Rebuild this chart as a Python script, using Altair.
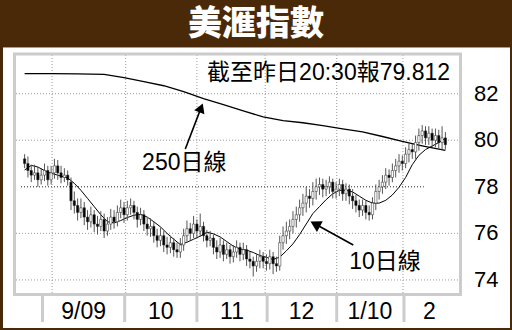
import altair as alt
import pandas as pd

# ---------------- data ----------------
opens = [79.2, 79.0, 78.7, 78.5, 78.6, 78.3, 78.5, 78.7, 78.3, 78.6, 78.9, 78.6, 78.4, 78.5,
         78.2, 77.4, 77.2, 76.9, 77.1, 76.7, 76.5, 76.8, 76.4, 76.3, 76.6, 76.1, 76.4, 76.7,
         76.5, 76.9, 77.1, 76.8, 77.1, 77.2, 76.9, 76.6, 76.8, 76.4, 76.2, 76.3, 75.9,
         75.7, 75.9, 75.5, 75.4, 75.6, 75.3, 75.2,
         75.5, 75.9, 76.2, 76.0, 76.4, 76.1, 76.3, 75.9, 75.7,
         75.8, 75.4, 75.2, 75.5, 75.1, 75.3, 75.0, 75.2, 75.4, 75.1, 75.3, 74.9,
         74.8, 74.6, 74.8, 75.0, 74.8, 74.7, 75.0, 74.7,
         74.6, 75.6, 75.9, 76.1, 76.3, 76.6, 76.8, 77.1, 77.3, 77.6, 77.5, 77.8,
         78.0, 78.1, 77.9, 78.0, 78.2, 77.8, 77.9, 78.1, 77.7, 77.9, 77.6, 77.4, 77.2, 77.0, 77.2, 76.9,
         76.8, 77.3, 77.8, 78.0, 78.2, 78.5, 78.4, 78.7, 78.9, 79.1, 79.0, 79.4, 79.6, 79.5, 79.9,
         80.2, 80.4, 80.1, 80.3, 80.0, 80.2, 79.9, 80.1]
highs = [79.4, 79.3, 78.95, 78.95, 78.85, 78.8, 79.0, 78.9, 78.9, 79.2, 79.15, 78.9, 78.8, 78.7,
         78.4, 77.8, 77.5, 77.5, 77.35, 77.0, 77.15, 77.0, 76.75, 76.95, 76.85, 76.7, 77.05, 77.0,
         77.2, 77.45, 77.35, 77.4, 77.5, 77.4, 77.15, 77.1, 77.0, 76.7, 76.65, 76.5, 76.2,
         76.25, 76.1, 75.85, 75.9, 75.8, 75.6, 75.8,
         76.2, 76.55, 76.45, 76.75, 76.6, 76.85, 76.5, 76.15, 76.1,
         75.95, 75.7, 75.8, 75.7, 75.6, 75.5, 75.5, 75.7, 75.6, 75.6, 75.5, 75.2,
         75.0, 75.1, 75.3, 75.2, 75.1, 75.3, 75.2, 75.0,
         75.9, 76.3, 76.5, 76.6, 76.95, 77.15, 77.45, 77.7, 78.0, 77.9, 78.2, 78.35,
         78.4, 78.35, 78.3, 78.45, 78.35, 78.2, 78.35, 78.3, 78.15, 78.1, 77.9, 77.65, 77.45, 77.45, 77.4, 77.2,
         77.55, 78.1, 78.3, 78.5, 78.8, 78.75, 79.0, 79.2, 79.4, 79.35, 79.7, 79.9, 79.85, 80.2,
         80.5, 80.65, 80.6, 80.6, 80.5, 80.5, 80.45, 80.6, 80.35]
lows = [78.8, 78.4, 78.2, 78.3, 78.0, 78.1, 78.25, 78.05, 78.1, 78.35, 78.3, 78.15, 78.2, 78.05,
        77.0, 76.85, 76.55, 76.65, 76.35, 76.15, 76.25, 76.05, 75.95, 76.1, 75.8, 75.9, 76.15, 76.2,
        76.3, 76.65, 76.45, 76.55, 76.8, 76.6, 76.25, 76.35, 76.1, 75.9, 75.85, 75.6, 75.4,
        75.45, 75.2, 75.1, 75.15, 75.0, 74.95, 74.95,
        75.25, 75.65, 75.7, 75.8, 75.8, 75.85, 75.65, 75.4, 75.45,
        75.1, 74.9, 74.95, 74.8, 74.9, 74.7, 74.75, 74.95, 74.8, 74.85, 74.6, 74.5,
        74.15, 74.35, 74.5, 74.5, 74.4, 74.45, 74.25, 74.35,
        74.4, 75.3, 75.55, 75.75, 76.0, 76.25, 76.5, 76.75, 76.9, 77.1, 77.2, 77.45,
        77.65, 77.55, 77.6, 77.7, 77.5, 77.5, 77.6, 77.4, 77.4, 77.25, 77.05, 76.9, 76.7, 76.75, 76.6, 76.55,
        76.6, 77.0, 77.45, 77.7, 77.9, 78.05, 78.2, 78.4, 78.6, 78.7, 78.8, 79.05, 79.2, 79.2,
        79.55, 79.85, 79.8, 79.8, 79.7, 79.7, 79.6, 79.6, 79.6]
closes = [79.0, 78.7, 78.5, 78.6, 78.3, 78.5, 78.7, 78.3, 78.6, 78.9, 78.6, 78.4, 78.5, 78.3,
          77.4, 77.2, 76.9, 77.1, 76.7, 76.5, 76.8, 76.4, 76.3, 76.6, 76.1, 76.4, 76.7, 76.5,
          76.9, 77.1, 76.8, 77.1, 77.2, 76.9, 76.6, 76.8, 76.4, 76.2, 76.3, 75.9, 75.7,
          75.9, 75.5, 75.4, 75.6, 75.3, 75.2, 75.5,
          75.9, 76.2, 76.0, 76.4, 76.1, 76.3, 75.9, 75.7, 75.8,
          75.4, 75.2, 75.5, 75.1, 75.3, 75.0, 75.2, 75.4, 75.1, 75.3, 74.9, 74.8,
          74.6, 74.8, 75.0, 74.8, 74.7, 75.0, 74.7, 74.6,
          75.6, 75.9, 76.1, 76.3, 76.6, 76.8, 77.1, 77.3, 77.6, 77.5, 77.8, 78.0,
          78.1, 77.9, 78.0, 78.2, 77.8, 77.9, 78.1, 77.7, 77.9, 77.6, 77.4, 77.2, 77.0, 77.2, 76.9, 76.8,
          77.3, 77.8, 78.0, 78.2, 78.5, 78.4, 78.7, 78.9, 79.1, 79.0, 79.4, 79.6, 79.5, 79.9,
          80.2, 80.4, 80.1, 80.3, 80.0, 80.2, 79.9, 80.1, 79.81]

ma10_idx = [0, 2, 4, 7, 10, 13, 15, 17, 19, 21, 23, 25, 27, 29, 31, 33, 35, 37, 39, 41, 43, 45, 47,
            49, 51, 53, 55, 57, 59, 61, 63, 65, 67, 69, 71, 73, 75, 77, 79, 81, 83, 85, 87, 89, 91,
            93, 95, 97, 99, 101, 103, 105, 107, 109, 111, 113, 115, 117, 119, 121, 123, 125, 127]
ma10_val = [78.72, 78.92, 78.85, 78.62, 78.5, 78.38, 78.15, 77.85, 77.5, 77.15, 76.8, 76.5, 76.45,
            76.55, 76.68, 76.78, 76.82, 76.7, 76.5, 76.28, 76.0, 75.75, 75.52, 75.62, 75.75, 75.88,
            76.05, 75.98, 75.85, 75.65, 75.45, 75.33, 75.28, 75.18, 75.05, 74.97, 74.88, 74.98,
            75.25, 75.55, 75.95, 76.4, 76.85, 77.15, 77.45, 77.7, 77.85, 77.85, 77.78, 77.6, 77.42,
            77.3, 77.3, 77.42, 77.65, 77.98, 78.4, 78.95, 79.35, 79.6, 79.75, 79.9, 80.08]

ma250_idx = [0, 8, 16, 24, 30, 36, 42, 48, 54, 60, 66, 72, 78, 84, 90, 96, 102, 108, 114, 120, 127]
ma250_val = [82.86, 82.86, 82.85, 82.83, 82.69, 82.52, 82.34, 82.09, 81.79, 81.53, 81.26, 81.0,
             80.84, 80.75, 80.63, 80.49, 80.36, 80.16, 79.95, 79.76, 79.56]

y_ticks = [74, 76, 78, 80, 82]
grid_y_vals = [74, 76, 80, 82]
month_labels = ["9/09", "10", "11", "12", "1/10", "2"]
month_label_pos = [17.8, 41.1, 62.6, 83.6, 104.2, 122.2]
month_sep_pos = [5.4, 30.2, 52.0, 73.2, 94.2, 114.5]
grid_x_pos = [8.3, 30.5, 52.0, 72.6, 94.2, 114.2]

title_text = "美滙指數"
note_text = "截至昨日20:30報79.812"
label_texts = ["250日線", "10日線"]
label_i = [48.2, 108.8]
label_v = [79.02, 74.77]

# ---------------- frames ----------------
df = pd.DataFrame({"i": list(range(len(closes))), "open": opens, "high": highs,
                   "low": lows, "close": closes})
ma10 = pd.DataFrame({"i": ma10_idx, "v": ma10_val})
ma250 = pd.DataFrame({"i": ma250_idx, "v": ma250_val})
one = pd.DataFrame({"k": [0]})

W, H = 443, 238
XS = alt.Scale(domain=[-1.09, 129.6], nice=False, zero=False)
YS = alt.Scale(domain=[73.44, 83.66], nice=False, zero=False)
CJK = "Liberation Sans, Noto Sans CJK TC"
BROWN = "#4a2908"


def X(f):
    return alt.X(f, type="quantitative", scale=XS, axis=None)


def Y(f):
    return alt.Y(f, type="quantitative", scale=YS, axis=None)


def rect(x1, x2, y1, y2, color):
    return alt.Chart(one).mark_rect(color=color).encode(
        x=alt.value(x1), x2=alt.value(x2), y=alt.value(y1), y2=alt.value(y2))


layers = []
# decorations
layers.append(rect(-16, 496, -55, -8, BROWN))
layers.append(rect(-16, 496, -8, -7, "#b89a78"))
layers.append(rect(-16, -13, -55, 275, BROWN))
layers.append(rect(494, 496, -55, 275, BROWN))
layers.append(rect(-16, 496, 273, 275, BROWN))

# grid
layers.append(alt.Chart(pd.DataFrame({"v": grid_y_vals})).mark_rule(
    color="#9a9a9a", strokeDash=[1, 2], strokeWidth=1).encode(
    y=Y("v"), x=alt.value(0), x2=alt.value(W)))
layers.append(alt.Chart(pd.DataFrame({"v": [78], "a": [-1.09], "b": [120.5]})).mark_rule(
    color="#222222", strokeDash=[1, 2], strokeWidth=1).encode(
    y=Y("v"), x=X("a"), x2=alt.X2("b")))
layers.append(alt.Chart(pd.DataFrame({"g": grid_x_pos})).mark_rule(
    color="#9a9a9a", strokeDash=[1, 2], strokeWidth=1).encode(
    x=X("g"), y=alt.value(0), y2=alt.value(H)))

# moving averages
layers.append(alt.Chart(ma250).mark_line(color="black", strokeWidth=1.3).encode(
    x=X("i"), y=Y("v")))
layers.append(alt.Chart(ma10).mark_line(color="black", strokeWidth=1.0).encode(
    x=X("i"), y=Y("v")))

# candles
layers.append(alt.Chart(df).mark_rule(color="#555555", strokeWidth=1).encode(
    x=X("i"), y=Y("low"), y2=alt.Y2("high")))
layers.append(alt.Chart(df).mark_bar(size=2.3, stroke="#222222", strokeWidth=0.5).encode(
    x=X("i"), y=Y("open"), y2=alt.Y2("close"),
    fill=alt.condition("datum.close >= datum.open", alt.value("white"), alt.value("black"))))

# plot frame
layers.append(alt.Chart(one).mark_rect(fill="transparent", stroke="#cccccc", strokeWidth=3).encode(
    x=alt.value(-1.5), x2=alt.value(444.5), y=alt.value(-1), y2=alt.value(239.5)))

# y labels on the right
layers.append(alt.Chart(pd.DataFrame({"v": y_ticks})).mark_text(
    font="Liberation Sans", fontSize=22, color="black", align="left", baseline="middle").encode(
    x=alt.value(458), y=Y("v"), text=alt.Text("v:Q", format="d")))

# month separators and labels
layers.append(alt.Chart(pd.DataFrame({"s": month_sep_pos})).mark_rule(
    color="#cccccc", strokeWidth=3).encode(x=X("s"), y=alt.value(241), y2=alt.value(267)))
layers.append(alt.Chart(pd.DataFrame({"p": month_label_pos, "t": month_labels})).mark_text(
    font="Liberation Sans", fontSize=23, color="black", baseline="middle", align="center").encode(
    x=X("p"), y=alt.value(257), text="t:N"))

# annotations
layers.append(alt.Chart(pd.DataFrame({"i": [128.4], "v": [82.88], "t": [note_text]})).mark_text(
    font=CJK, fontSize=23, color="black", align="right", baseline="middle").encode(
    x=X("i"), y=Y("v"), text="t:N"))
layers.append(alt.Chart(pd.DataFrame({"i": label_i, "v": label_v, "t": label_texts})).mark_text(
    font=CJK, fontSize=23, color="black", align="center", baseline="middle").encode(
    x=X("i"), y=Y("v"), text="t:N"))

arrows = pd.DataFrame({"i": [48.5, 99.2], "v": [79.62, 75.5], "i2": [53.25, 87.7], "v2": [81.39, 76.4]})
layers.append(alt.Chart(arrows).mark_rule(color="black", strokeWidth=1.6).encode(
    x=X("i"), y=Y("v"), x2=alt.X2("i2"), y2=alt.Y2("v2")))
layers.append(alt.Chart(pd.DataFrame({"i": [53.25], "v": [81.39]})).mark_point(
    shape="triangle-up", filled=True, color="black", size=120, angle=21.4, opacity=1).encode(
    x=X("i"), y=Y("v")))
layers.append(alt.Chart(pd.DataFrame({"i": [87.7], "v": [76.4]})).mark_point(
    shape="triangle-up", filled=True, color="black", size=150, angle=298.3, opacity=1).encode(
    x=X("i"), y=Y("v")))

# title
layers.append(alt.Chart(pd.DataFrame({"t": [title_text]})).mark_text(
    font="Noto Sans CJK TC", fontSize=34, fontWeight=900, color="white",
    align="center", baseline="middle").encode(
    x=alt.value(240), y=alt.value(-30), text="t:N"))

chart = alt.layer(*layers).properties(
    width=W, height=H,
    autosize=alt.AutoSizeParams(type="none"),
    padding={"left": 16, "top": 55, "right": 53, "bottom": 37},
    background="white",
).configure_view(strokeWidth=0)

chart.save("out.html", embed_options={"renderer": "svg", "actions": False})
